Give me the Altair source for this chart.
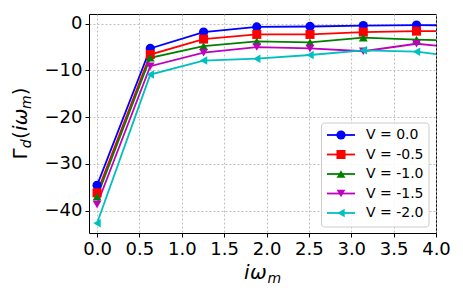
import altair as alt
import pandas as pd

# ---- data ----
omega = [0.0, 0.628, 1.257, 1.885, 2.513, 3.142, 3.770, 4.398]
labels = ["V = 0.0", "V = -0.5", "V = -1.0", "V = -1.5", "V = -2.0"]
gamma_v00 = [-34.6, -5.3, -1.8, -0.7, -0.6, -0.4, -0.3, -0.4]
gamma_v05 = [-36.2, -6.6, -3.3, -2.3, -2.3, -1.8, -1.6, -1.6]
gamma_v10 = [-37.0, -7.3, -4.8, -3.8, -4.0, -3.0, -3.4, -3.7]
gamma_v15 = [-38.7, -9.1, -6.2, -5.0, -5.3, -5.9, -4.3, -5.4]
gamma_v20 = [-42.7, -10.9, -7.9, -7.5, -6.7, -5.7, -6.0, -7.4]
series = [gamma_v00, gamma_v05, gamma_v10, gamma_v15, gamma_v20]
x_ticks = [0.0, 0.5, 1.0, 1.5, 2.0, 2.5, 3.0, 3.5, 4.0]
y_ticks = [-40, -30, -20, -10, 0]

# ---- styles ----
colors = ["#0000ff", "#ff0000", "#008000", "#bf00bf", "#00bfbf"]
shapes = ["circle", "square", "triangle-up", "triangle-down", "triangle-left"]
sizes = [85, 72, 125, 125, 125]
FONT = "DejaVu Sans"
W, H = 347, 219

rows = []
for lab, vals in zip(labels, series):
    for w, g in zip(omega, vals):
        rows.append({"w": w, "g": g, "V": lab})
df = pd.DataFrame(rows)

color = alt.Color("V:N", scale=alt.Scale(domain=labels, range=colors), legend=None)
shape = alt.Shape("V:N", scale=alt.Scale(domain=labels, range=shapes), legend=None)
size = alt.Size("V:N", scale=alt.Scale(domain=labels, range=sizes), legend=None)

xenc = alt.X("w:Q",
             scale=alt.Scale(domain=[-0.095, 4.0], nice=False, zero=False),
             axis=alt.Axis(values=x_ticks, format=".1f", title=None, labelFlush=False))
yenc = alt.Y("g:Q",
             scale=alt.Scale(domain=[-44.8, 2.07], nice=False, zero=False),
             axis=alt.Axis(values=y_ticks, format="d", title=None))

lines = alt.Chart(df).mark_line(strokeWidth=1.8, clip=True).encode(
    x=xenc, y=yenc, color=color, order="w:Q")
points = alt.Chart(df).mark_point(filled=True, opacity=1, clip=True).encode(
    x="w:Q", y="g:Q", color=color, shape=shape, size=size)
main = alt.layer(lines, points)

# ---- legend ----
leg_top, leg_step = 121, 19.5
leg_df = pd.DataFrame({"V": labels, "ly": [leg_top + leg_step * i for i in range(len(labels))]})
ly = alt.Y("ly:Q", scale=None, axis=None)
box = alt.Chart(pd.DataFrame({"a": [0]})).mark_rect(
    fill="white", fillOpacity=0.85, stroke="#cccccc", strokeWidth=1, cornerRadius=3
).encode(x=alt.value(232.5), x2=alt.value(340), y=alt.value(109), y2=alt.value(213))
leg_lines = alt.Chart(leg_df).mark_rule(strokeWidth=1.8).encode(
    x=alt.value(238), x2=alt.value(266), y=ly, color=color)
leg_pts = alt.Chart(leg_df).mark_point(filled=True, opacity=1).encode(
    x=alt.value(252), y=ly, color=color, shape=shape, size=size)
leg_txt = alt.Chart(leg_df).mark_text(
    align="left", baseline="middle", font=FONT, fontSize=14, color="black"
).encode(x=alt.value(277), y=ly, text="V:N")


def piece(s, x, y, fsize, italic=False, angle=0):
    kw = dict(align="left", baseline="alphabetic", font=FONT, fontSize=fsize,
              color="black", text=s)
    if italic:
        kw["fontStyle"] = "italic"
    if angle:
        kw["angle"] = angle
    return alt.Chart(pd.DataFrame({"a": [0]})).mark_text(**kw).encode(
        x=alt.value(x), y=alt.value(y))


# x title: i omega_m
xt = [
    piece("i", 155, 265, 20, True),
    piece("ω", 161, 265, 20, True),
    piece("m", 178.5, 268.5, 14, True),
]
# y title: Gamma_d(i omega_m), rotated
bx = -62
yt = [
    piece("Γ", bx, 145.5, 20, False, 270),
    piece("d", bx + 3.5, 134.2, 14, True, 270),
    piece("(", bx, 125, 20, False, 270),
    piece("i", bx, 117, 20, True, 270),
    piece("ω", bx, 111.2, 20, True, 270),
    piece("m", bx + 3.5, 95, 14, True, 270),
    piece(")", bx, 81.2, 20, False, 270),
]

chart = alt.layer(main, box, leg_lines, leg_pts, leg_txt, *xt, *yt).resolve_scale(
    y="independent"
).properties(
    width=W, height=H,
    autosize=alt.AutoSizeParams(type="none"),
    padding={"left": 81, "top": 6, "right": 15, "bottom": 52},
).configure_view(
    stroke="black", strokeWidth=1
).configure_axis(
    labelFont=FONT, labelFontSize=18, labelColor="black",
    tickColor="black", tickSize=4, tickWidth=1, domain=False,
    grid=True, gridColor="#b0b0b0", gridDash=[2, 2], gridWidth=0.8,
    labelPadding=3,
)

chart.save("out.html", embed_options={"renderer": "svg", "actions": False})
